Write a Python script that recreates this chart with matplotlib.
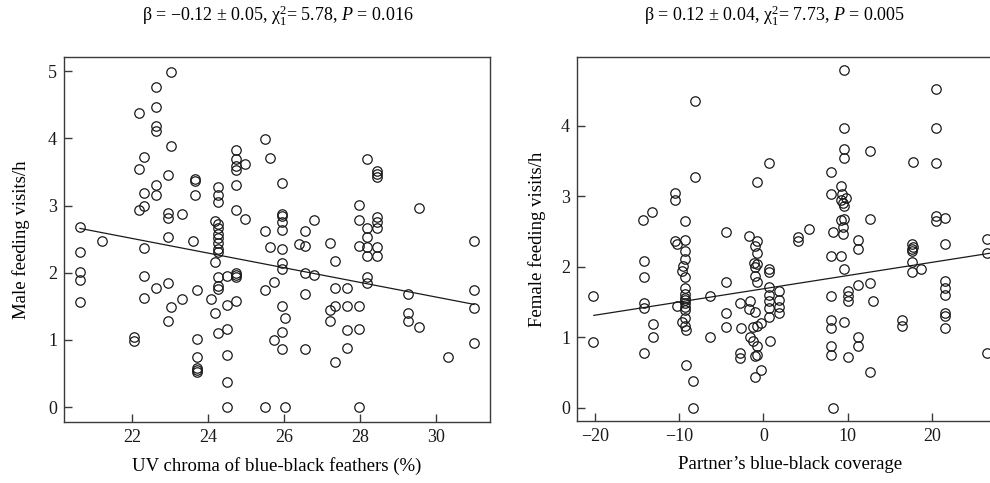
import numpy as np
import matplotlib
matplotlib.use("Agg")
import matplotlib.pyplot as plt

plt.rcParams['font.family'] = ['Liberation Serif', 'DejaVu Serif']
plt.rcParams['mathtext.fontset'] = 'custom'
plt.rcParams['mathtext.rm'] = 'Liberation Serif'
plt.rcParams['mathtext.it'] = 'Liberation Serif:italic'

# ---- left panel: male UV chroma vs male feeding visits ----
male_cols_x = [20.63, 21.2, 22.05, 22.18, 22.31, 22.62, 22.94, 23.02, 23.31, 23.61,
               23.66, 23.72, 24.07, 24.18, 24.25, 24.49, 24.51, 24.74, 24.96, 25.5,
               25.64, 25.74, 25.94, 26.03, 26.4, 26.55, 26.8, 27.2, 27.34, 27.67,
               27.96, 28.19, 28.45, 29.27, 29.54, 30.32, 31.0]
male_cols_y = [
    [2.68, 2.31, 2.01, 1.89, 1.57],
    [2.47],
    [1.05, 0.99],
    [4.37, 3.54, 2.94],
    [3.72, 3.18, 2.99, 2.37, 1.95, 1.63],
    [4.77, 4.46, 4.19, 4.11, 3.31, 3.15, 1.78],
    [3.46, 2.89, 2.81, 2.53, 1.85, 1.28],
    [4.99, 3.88, 1.49],
    [2.87, 1.61],
    [2.47],
    [3.39, 3.37, 3.16],
    [1.75, 1.01, 0.74, 0.59, 0.56, 0.53],
    [1.61],
    [2.77, 2.16, 1.40],
    [3.28, 3.16, 3.05, 2.73, 2.66, 2.58, 2.51, 2.44, 2.36, 2.31, 1.94, 1.81, 1.76, 1.11],
    [1.95, 1.52, 1.16, 0.77],
    [0.38, 0.0],
    [3.83, 3.69, 3.59, 3.53, 3.30, 2.93, 2.00, 1.97, 1.93, 1.58],
    [3.62, 2.80],
    [3.99, 2.62, 1.74, 0.0],
    [3.71, 2.39],
    [1.87, 1.00],
    [3.33, 2.88, 2.85, 2.76, 2.63, 2.35, 2.15, 2.05, 1.50, 1.12, 0.87],
    [1.33, 0.0],
    [2.43],
    [2.62, 2.40, 1.99, 1.69, 0.87],
    [2.79, 1.96],
    [2.45, 1.44, 1.28],
    [2.18, 1.77, 1.50, 0.67],
    [1.77, 1.50, 1.15, 0.88],
    [3.01, 2.79, 2.40, 1.50, 1.16, 0.0],
    [3.69, 2.66, 2.53, 2.39, 2.25, 1.94, 1.85],
    [3.52, 3.47, 3.43, 2.83, 2.76, 2.66, 2.38, 2.25],
    [1.69, 1.40, 1.28],
    [2.96, 1.19],
    [0.74],
    [2.47, 1.74, 1.48, 0.96],
]
male_fit_x = [20.63, 31.0]
male_intercept, male_slope = 4.909, -0.109

# ---- right panel: partner coverage vs female feeding visits ----
fem_cols_x = [-20.24, -14.23, -14.15, -13.17, -13.12, -10.5, -10.47, -10.27, -10.2, -9.6,
              -9.49, -9.29, -9.25, -9.2, -8.3, -8.1, -6.32, -4.46, -2.76, -2.68,
              -1.66, -1.58, -1.19, -1.1, -0.98, -0.79, -0.71, -0.31, -0.27, 0.71,
              0.79, 1.82, 4.15, 5.42, 8.0, 8.3, 9.18, 9.3, 9.4, 9.42, 9.61, 9.8,
              10.08, 11.27, 12.66, 12.93, 16.42, 17.6, 17.72, 18.7, 20.49, 21.47,
              21.55, 26.5]
fem_cols_y = [
    [1.59, 0.93],
    [2.67],
    [2.08, 1.86, 1.48, 1.41, 0.78],
    [2.78],
    [1.19, 1.00],
    [3.05, 2.95],
    [2.37],
    [2.33],
    [1.45],
    [1.94, 1.21],
    [2.01],
    [2.65, 2.38, 2.23, 2.11, 1.86, 1.27, 1.16],
    [1.70, 1.62, 1.55, 1.53, 1.48, 1.43, 1.39],
    [1.10, 0.61],
    [0.38, 0.0],
    [4.36, 3.28],
    [1.58, 1.00],
    [2.50, 1.78, 1.34, 1.15],
    [1.49, 0.78, 0.70],
    [1.13],
    [2.44, 1.40],
    [1.51, 1.01],
    [1.14, 0.95],
    [2.06],
    [2.30, 2.00, 1.87, 1.36, 0.73, 0.43],
    [3.20, 1.78, 1.16],
    [2.37, 2.20, 2.04, 0.88, 0.75],
    [0.54],
    [1.20],
    [3.48, 1.97, 1.92, 1.71, 1.60, 1.51, 1.41, 1.29],
    [0.94],
    [1.66, 1.53, 1.43, 1.34],
    [2.43, 2.36],
    [2.54],
    [3.34, 3.03, 2.15, 1.58, 1.24, 1.13, 0.88, 0.75],
    [2.50, 0.0],
    [3.15, 2.95, 2.67, 2.15],
    [3.03],
    [2.90],
    [2.56, 2.46],
    [4.79, 3.97, 3.68, 3.54, 2.87, 2.68, 1.97, 1.22],
    [2.98],
    [1.65, 1.58, 1.52, 0.72],
    [2.38, 2.26, 1.74, 1.00, 0.88],
    [3.65, 2.68, 1.77, 0.50],
    [1.52],
    [1.24, 1.16],
    [2.33, 2.25, 2.22, 2.07, 1.93],
    [3.49, 2.28],
    [1.97],
    [4.52, 3.97, 3.48, 2.72, 2.65],
    [2.70],
    [2.33, 1.80, 1.70, 1.60, 1.34, 1.30, 1.13],
    [2.39, 2.19, 0.78],
]
fem_fit_x = [-20.1, 28.4]
fem_intercept, fem_slope = 1.688, 0.0188

left_title = r'β = −0.12 ± 0.05, $\mathrm{\chi}_1^2$= 5.78, $P$ = 0.016'
right_title = r'β = 0.12 ± 0.04, $\mathrm{\chi}_1^2$= 7.73, $P$ = 0.005'


def flatten(cols_x, cols_y):
    xs, ys = [], []
    for x, col in zip(cols_x, cols_y):
        xs.extend([x] * len(col))
        ys.extend(col)
    return np.array(xs), np.array(ys)


def style_axes(ax):
    for sp in ax.spines.values():
        sp.set_color('#3a3a3a')
        sp.set_linewidth(1.0)
    ax.tick_params(direction='in', length=6, width=1.0, color='#3a3a3a',
                   labelsize=13, labelcolor='#1a1a1a', pad=5)


fig = plt.figure(figsize=(9.9, 4.83), dpi=100)
W, H = 990, 483

# left panel
ax1 = fig.add_axes([64 / W, 1 - 422 / H, 426 / W, 365 / H])
mx, my = flatten(male_cols_x, male_cols_y)
ax1.plot(mx, my, 'o', mfc='none', mec='#1a1a1a', ms=6.8, mew=0.9)
fx = np.array(male_fit_x)
ax1.plot(fx, male_intercept + male_slope * fx, color='#1a1a1a', lw=0.9)
ax1.set_xlim(20.21, 31.42)
ax1.set_ylim(-0.22, 5.21)
ax1.set_xticks([22, 24, 26, 28, 30])
ax1.set_yticks([0, 1, 2, 3, 4, 5])
ax1.set_xlabel('UV chroma of blue-black feathers (%)', fontsize=13.5, labelpad=8)
ax1.set_ylabel('Male feeding visits/h', fontsize=13.5, labelpad=13)
style_axes(ax1)

# right panel (runs off the right edge as in the source)
ax2 = fig.add_axes([577 / W, 1 - 421 / H, 426 / W, 364 / H])
fxs, fys = flatten(fem_cols_x, fem_cols_y)
ax2.plot(fxs, fys, 'o', mfc='none', mec='#1a1a1a', ms=6.8, mew=0.9)
gx = np.array(fem_fit_x)
ax2.plot(gx, fem_intercept + fem_slope * gx, color='#1a1a1a', lw=0.9)
ax2.set_xlim(-22.1, 28.4)
ax2.set_ylim(-0.19, 4.98)
ax2.set_xticks([-20, -10, 0, 10, 20])
ax2.set_xticklabels(['−20', '−10', '0', '10', '20'])
ax2.set_yticks([0, 1, 2, 3, 4])
ax2.set_xlabel('Partner’s blue-black coverage', fontsize=13.5, labelpad=8)
ax2.set_ylabel('Female feeding visits/h', fontsize=13.5, labelpad=11)
style_axes(ax2)

fig.text(278 / W, 1 - 16 / H, left_title, ha='center', va='center', fontsize=13)
fig.text(775 / W, 1 - 16 / H, right_title, ha='center', va='center', fontsize=13)

fig.savefig('out.png', dpi=100, facecolor='white')
